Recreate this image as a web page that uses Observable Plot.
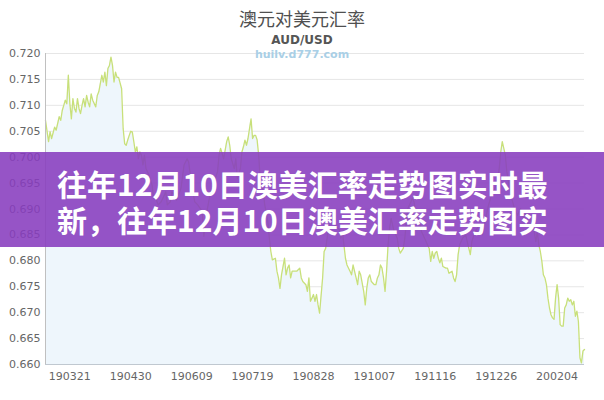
<!DOCTYPE html>
<html>
<head>
<meta charset="utf-8">
<script src="https://cdn.jsdelivr.net/npm/d3@7"></script>
<script src="https://cdn.jsdelivr.net/npm/@observablehq/plot@0.6"></script>
<style>
  html, body { margin: 0; padding: 0; background: #fff; }
  #wrap { position: relative; width: 604px; height: 400px; overflow: hidden; }
  #chart { position: absolute; left: 0; top: 0; }
  .t { position: absolute; left: 0; width: 604px; text-align: center; white-space: nowrap; }
  #title { top: 7px; font: 18px/22px "Noto Sans CJK SC", sans-serif; color: #505050; }
  #sub { top: 33px; font: bold 12px/14px "DejaVu Sans", sans-serif; color: #555; }
  #wm { top: 48px; font: bold 11px/13px "DejaVu Sans", sans-serif; color: #a9cfe6; }
  #banner { position: absolute; left: 0; top: 152px; width: 604px; height: 95px;
            background: rgba(135, 60, 190, 0.88); box-sizing: border-box; padding: 13px 0 0 57px; }
  #banner div { font: bold 30px "Noto Sans CJK SC", sans-serif; color: #fff; line-height: 36px; white-space: nowrap; }
</style>
</head>
<body>
<div id="wrap">
  <div id="chart"></div>
  <div class="t" id="title">澳元对美元汇率</div>
  <div class="t" id="sub">AUD/USD</div>
  <div class="t" id="wm">huilv.d777.com</div>
  <div id="banner">
    <div>往年12月10日澳美汇率走势图实时最</div>
    <div>新，往年12月10日澳美汇率走势图实</div>
  </div>
</div>
<script>
// day index since 2019-03-05 (one category per calendar day)
const dayIndex = [
  0,2,3,4,6,7,9,10,11,12,13,14,15,16,17,18,19,20,21,22,23,24,25,26,27,28,29,30,31,33,34,35,37,38,39,40,41,42,43,44,45,46,47,48,50,
  51,52,53,54,55,56,57,58,59,60,61,62,63,64,65,66,68,70,71,72,74,76,79,80,82,83,85,86,89,91,93,
  94,96,98,100,103,104,106,108,110,113,114,115,117,119,120,121,122,124,125,126,128,129,130,131,132,133,134,135,136,137,138,139,140,
  141,143,144,146,147,148,149,151,152,153,154,155,156,157,158,159,160,161,162,163,165,167,168,169,171,172,173,174,175,176,177,178,179,180,
  182,183,184,185,186,188,190,193,194,195,196,197,198,200,201,202,204,205,206,207,209,210,211,212,213,214,216,217,218,219,220,221,222,223,224,
  225,226,227,229,231,232,233,235,236,237,238,240,241,242,243,244,246,247,248,250,252,253,254,255,256,257,258,259,260,261,263,264,265,267,268,
  269,270,271,272,274,276,277,279,280,282,285,287,289,291,293,296,298,299,300,302,303,305,308,310,312,314,316,319,321,322,323,324,325,326,
  327,328,329,330,331,332,333,334,335,336,337,338,339,340,341,342,343,344,345,346,347,348,349,350,351,352,353,354
];
const rate = [
  .7071,.7030,.7049,.7036,.7058,.7052,.7078,.7071,.7090,.7100,.7110,.7103,.7158,.7103,.7074,.7113,.7094,.7087,.7113,.7094,.7084,.7100,.7113,.7097,.7119,.7106,.7097,.7122,.7110,.7097,.7119,.7126,.7158,.7145,.7164,.7138,.7171,.7177,.7193,.7177,.7145,.7164,.7154,.7154,.7132,
  .7055,.7026,.7023,.7033,.7042,.7050,.7049,.7030,.7010,.7020,.6997,.7010,.7004,.6985,.7004,.6978,.6965,.6946,.6921,.6924,.6908,.6914,.6933,.6908,.6914,.6933,.6927,.6917,.6940,.6985,.6997,
  .6991,.6946,.6914,.6908,.6895,.6847,.6895,.6927,.6946,.6972,.7004,.7017,.6997,.7030,.7039,.7023,.6997,.6978,.6997,.6959,.6978,.7010,.7020,.7033,.7023,.7036,.7055,.7074,.7036,.7042,.7042,.7033,.7004,
  .6959,.6933,.6908,.6876,.6844,.6818,.6802,.6805,.6780,.6767,.6747,.6773,.6789,.6805,.6773,.6786,.6792,.6767,.6780,.6780,.6780,.6786,.6767,.6760,.6754,.6741,.6767,.6722,.6728,.6735,.6722,.6735,.6715,.6699,
  .6767,.6818,.6824,.6844,.6869,.6882,.6869,.6860,.6844,.6856,.6831,.6805,.6792,.6780,.6773,.6792,.6767,.6754,.6780,.6773,.6741,.6715,.6747,.6767,.6773,.6760,.6754,.6754,.6767,.6773,.6792,.6786,.6767,.6741,.6780,
  .6831,.6863,.6882,.6856,.6844,.6824,.6815,.6824,.6844,.6876,.6901,.6914,.6921,.6914,.6895,.6888,.6869,.6856,.6850,.6837,.6824,.6799,.6818,.6805,.6815,.6818,.6805,.6796,.6805,.6789,.6786,.6786,.6776,.6780,.6767,
  .6760,.6773,.6812,.6831,.6844,.6850,.6837,.6812,.6837,.6856,.6869,.6850,.6882,.6908,.6927,.6946,.6978,.7010,.7030,.7004,.6972,.6933,.6901,.6888,.6901,.6882,.6895,.6876,.6856,.6837,.6856,.6831,.6818,.6799,
  .6773,.6767,.6754,.6728,.6709,.6696,.6690,.6687,.6728,.6754,.6728,.6677,.6674,.6674,.6709,.6715,.6728,.6722,.6725,.6715,.6722,.6693,.6703,.6683,.6613,.6603,.6626,.6629
];
const tickDays = [16, 56, 96, 136, 176, 216, 256, 296, 336];
const tickLabels = ["190321", "190430", "190609", "190719", "190828", "191007", "191116", "191226", "200204"];
const yTicks = [0.660, 0.665, 0.670, 0.675, 0.680, 0.685, 0.690, 0.695, 0.700, 0.705, 0.710, 0.715, 0.720];

const data = dayIndex.map((d, i) => ({d, v: rate[i]}));
const fmtY = d3.format(".3f");
const fmtX = (d) => tickLabels[tickDays.indexOf(d)];

const chart = Plot.plot({
  width: 604,
  height: 400,
  marginTop: 53,
  marginBottom: 36,
  marginLeft: 45,
  marginRight: 20,
  style: {fontFamily: "DejaVu Sans", fontSize: "11px", color: "#666", background: "transparent"},
  x: {domain: [0, 354]},
  y: {domain: [0.660, 0.720]},
  marks: [
    Plot.gridY(yTicks, {stroke: "#e6e6e6", strokeOpacity: 1}),
    Plot.areaY(data, {x: "d", y1: 0.660, y2: "v", fill: "#eef6fc"}),
    Plot.lineY(data, {x: "d", y: "v", stroke: "#c8e07a", strokeWidth: 1.3}),
    Plot.ruleX([0], {stroke: "#c0c0c0"}),
    Plot.ruleY([0.660], {stroke: "#c0c8d0"}),
    Plot.axisX({ticks: tickDays, tickFormat: fmtX, tickSize: 0, tickPadding: 8, label: null}),
    Plot.axisY({ticks: yTicks, tickFormat: fmtY, tickSize: 0, tickPadding: 5, label: null})
  ]
});
document.getElementById("chart").appendChild(chart);
</script>
</body>
</html>
